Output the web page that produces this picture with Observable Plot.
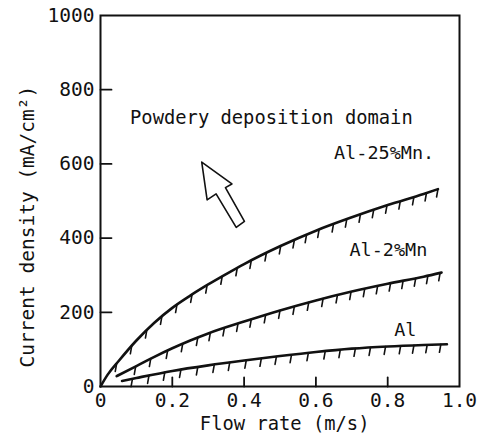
<!DOCTYPE html>
<html>
<head>
<meta charset="utf-8">
<script src="https://cdn.jsdelivr.net/npm/d3@7"></script>
<script src="https://cdn.jsdelivr.net/npm/@observablehq/plot@0.6"></script>
<style>
  html, body { margin: 0; padding: 0; background: #fff; }
  #chart { width: 479px; height: 440px; }
</style>
</head>
<body>
<div id="chart"></div>
<script>
// ---- data ----
const xTicks = [0, 0.2, 0.4, 0.6, 0.8, 1.0];
const xTickLabels = ["0", "0.2", "0.4", "0.6", "0.8", "1.0"];
const yTicks = [0, 200, 400, 600, 800, 1000];
const yTickLabels = ["0", "200", "400", "600", "800", "1000"];

const seriesNames = ["Al-25%Mn.", "Al-2%Mn", "Al"];

const x25 = [0, 0.02, 0.05, 0.1, 0.15, 0.2, 0.25, 0.3, 0.35, 0.4, 0.5, 0.6, 0.7, 0.8, 0.9, 0.94];
const y25 = [0, 32, 68, 124, 172, 212, 245, 275, 303, 330, 378, 420, 456, 489, 519, 532];

const x2 = [0.045, 0.1, 0.15, 0.2, 0.25, 0.3, 0.4, 0.5, 0.6, 0.7, 0.8, 0.9, 0.95];
const y2 = [28, 55, 80, 103, 124, 143, 175, 205, 232, 256, 277, 296, 307];

const x1 = [0.06, 0.1, 0.2, 0.3, 0.4, 0.5, 0.6, 0.7, 0.8, 0.9, 0.965];
const y1 = [15, 23, 42, 57, 70, 82, 93, 102, 108, 112, 114];

// hatch positions (x) along each curve
const hatch25 = [0.045, 0.087, 0.129, 0.171, 0.213, 0.255, 0.297, 0.339, 0.381, 0.42, 0.462, 0.502, 0.54, 0.574, 0.609, 0.649, 0.686, 0.724, 0.761, 0.798, 0.835, 0.873, 0.908, 0.94];
const hatch2 = [0.098, 0.14, 0.187, 0.229, 0.271, 0.306, 0.345, 0.383, 0.42, 0.46, 0.5, 0.54, 0.58, 0.62, 0.66, 0.698, 0.736, 0.772, 0.808, 0.843, 0.878, 0.912, 0.946];
const hatch1 = [0.089, 0.135, 0.179, 0.224, 0.271, 0.317, 0.36, 0.406, 0.448, 0.49, 0.532, 0.579, 0.626, 0.668, 0.71, 0.752, 0.794, 0.836, 0.873, 0.91, 0.948];

// annotation text
const annoText = ["Powdery deposition domain"];
const annoX = [0.476];
const annoY = [725];

// series label positions (data coords)
const labelX = [0.79, 0.802, 0.849];
const labelY = [628, 367, 151];

// hollow arrow outline (data coords)
const arrowX = [0.282, 0.366, 0.348, 0.401, 0.378, 0.322, 0.297, 0.282];
const arrowY = [605, 546, 536, 445, 429, 519, 503, 605];

const xLabel = "Flow rate (m/s)";
const yLabel = "Current density (mA/cm²)";

// ---- build tables ----
const seriesX = [x25, x2, x1];
const seriesY = [y25, y2, y1];
const hatchX = [hatch25, hatch2, hatch1];

const lines = seriesNames.flatMap((name, s) =>
  seriesX[s].map((x, i) => ({series: name, x, y: seriesY[s][i]})));

function interp(xs, ys, x) {
  const i = Math.max(1, Math.min(xs.length - 1, d3.bisectLeft(xs, x)));
  const t = (x - xs[i - 1]) / (xs[i] - xs[i - 1]);
  return ys[i - 1] + t * (ys[i] - ys[i - 1]);
}
const hatches = seriesNames.flatMap((name, s) =>
  hatchX[s].map(x => ({series: name, x, y: interp(seriesX[s], seriesY[s], x)})));

const labels = seriesNames.map((name, i) => ({text: name, x: labelX[i], y: labelY[i]}));
const anno = annoText.map((t, i) => ({text: t, x: annoX[i], y: annoY[i]}));
const arrow = arrowX.map((x, i) => ({x, y: arrowY[i]}));

const lineShape = {draw(context, l) { context.moveTo(0, 0); context.lineTo(0, -l); }};

const font = "DejaVu Sans Mono";

const chart = Plot.plot({
  width: 479,
  height: 440,
  marginLeft: 100,
  marginRight: 20,
  marginTop: 15,
  marginBottom: 54,
  style: {fontFamily: font, fontSize: "18px", background: "#fff", color: "#111"},
  x: {domain: [0, 1], label: null},
  y: {domain: [0, 1000], label: null},
  marks: [
    // tick labels
    Plot.axisX({ticks: xTicks, tickSize: 0, tickPadding: 7, tickFormat: d => xTickLabels[xTicks.indexOf(d)], fontSize: 19.5, label: null}),
    Plot.axisY({ticks: yTicks, tickSize: 0, tickPadding: 6, tickFormat: d => yTickLabels[yTicks.indexOf(d)], fontSize: 19.5, label: null}),
    // inward tick marks
    Plot.vector(xTicks.slice(1, -1), {x: d => d, y: () => 0, length: 9, rotate: 0, anchor: "start", shape: lineShape, stroke: "#111", strokeWidth: 1.8}),
    Plot.vector(yTicks.slice(1, -1), {x: () => 0, y: d => d, length: 11, rotate: 90, anchor: "start", shape: lineShape, stroke: "#111", strokeWidth: 1.8}),
    Plot.frame({stroke: "#111", strokeWidth: 2}),
    // curves
    Plot.line(lines, {x: "x", y: "y", z: "series", curve: "monotone-x", stroke: "#111", strokeWidth: 2.6}),
    // hatch marks
    Plot.vector(hatches, {x: "x", y: "y", length: 8, rotate: 190, anchor: "start", shape: lineShape, stroke: "#111", strokeWidth: 1.6}),
    // labels
    Plot.text(labels, {x: "x", y: "y", text: "text", fontSize: 18.5, fill: "#111"}),
    Plot.text(anno, {x: "x", y: "y", text: "text", fontSize: 18.8, fill: "#111"}),
    // hollow arrow
    Plot.line(arrow, {x: "x", y: "y", stroke: "#111", strokeWidth: 1.6, fill: "#fff", curve: "linear"}),
    // axis titles
    Plot.text([xLabel], {x: () => 0.513, y: () => -102, text: d => d, fontSize: 18.8, fill: "#111"}),
    Plot.text([yLabel], {x: () => -0.204, y: () => 431, text: d => d, rotate: -90, fontSize: 19.5, fill: "#111"})
  ]
});

document.getElementById("chart").appendChild(chart);
</script>
</body>
</html>
